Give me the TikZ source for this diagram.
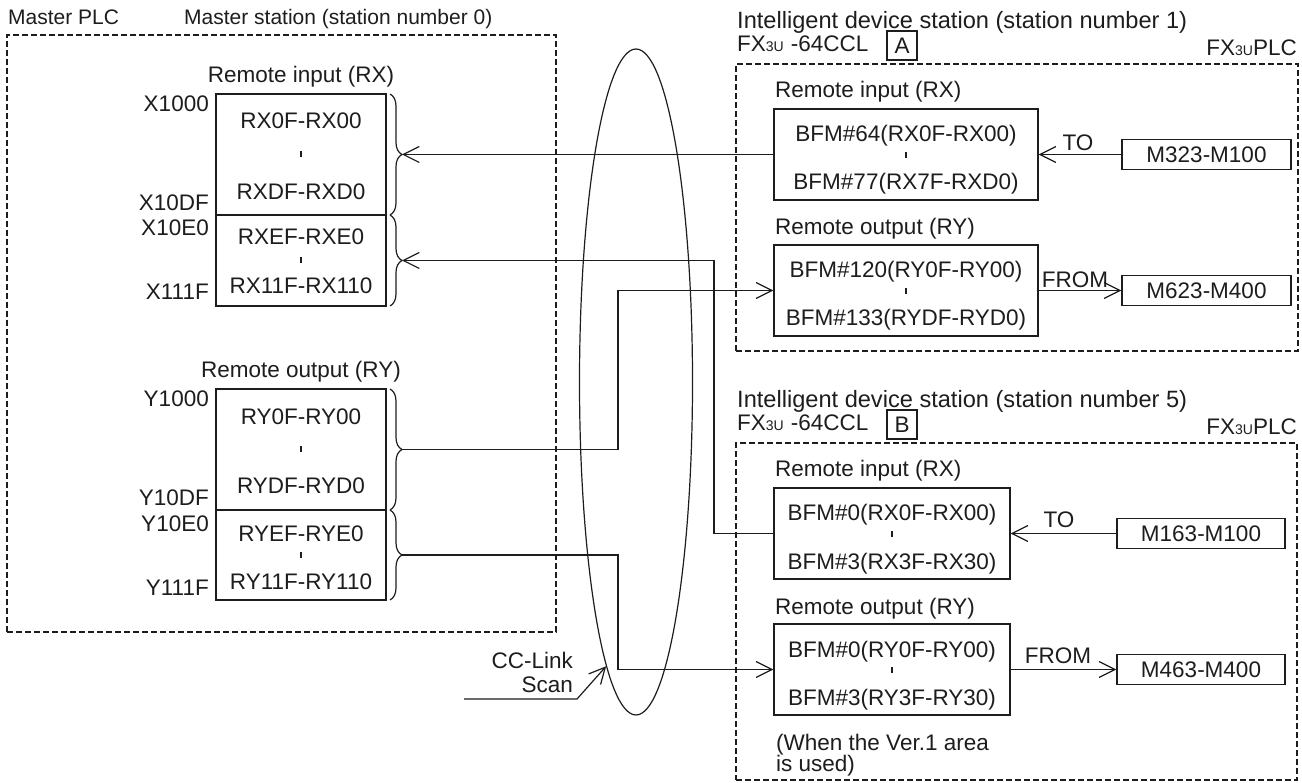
\documentclass[tikz,border=0pt]{standalone}
\usepackage{fontspec}
\setmainfont{Liberation Sans}
\usetikzlibrary{arrows.meta,decorations.pathreplacing,shapes.geometric}
\definecolor{ink}{HTML}{1E1C1D}
\newcommand\fxsmall{\fontsize{14}{14}\selectfont}
\begin{document}
\begin{tikzpicture}[x=1pt,y=-1pt,
  every node/.style={font=\fontsize{22.5}{22}\selectfont,text=ink},
  lbl/.style={anchor=base,inner sep=0pt},
  lblw/.style={anchor=base west,inner sep=0pt},
  lble/.style={anchor=base east,inner sep=0pt},
  toplbl/.style={anchor=base west,inner sep=0pt,font=\fontsize{21}{21}\selectfont},
  stlbl/.style={anchor=base west,inner sep=0pt,font=\fontsize{23.6}{23}\selectfont},
  sbox/.style={draw=ink,line width=1.2pt,inner sep=0pt},
  dbox/.style={draw=ink,line width=1.1pt,dash pattern=on 6pt off 3pt,inner sep=0pt},
  arr/.style={draw=ink,line width=1.2pt,-{Straight Barb[length=16pt,width=16pt]}},
  brc/.style={draw=ink,line width=1.2pt,decorate,decoration={brace,amplitude=12pt}},
  tickm/.style={fill=ink,inner sep=0pt,minimum width=1.6pt,minimum height=6pt}]
\useasboundingbox (0,0) rectangle (1302,783);

% ---------- Master side ----------
\node[dbox,minimum width=549pt,minimum height=597pt] (master) at (281.5,333.5) {};
\node[toplbl] (tmplc) at (8,25) {Master PLC};
\node[toplbl] (tmst) at (184,25) {Master station (station number 0)};

\node[lbl] (trxm) at (301,83) {Remote input (RX)};
\node[sbox,minimum width=170pt,minimum height=121pt] (xu) at (301,154.5) {};
\node[sbox,minimum width=170pt,minimum height=91pt] (xl) at (301,260.5) {};
\node[lble] (lx1) at (209,112) {X1000};
\node[lbl] (tx1) at (301,129) {RX0F-RX00};
\node[tickm] (kx1) at (301,154.5) {};
\node[lbl] (tx2) at (301,200) {RXDF-RXD0};
\node[lble] (lx2) at (209,211) {X10DF};
\node[lble] (lx3) at (209,236) {X10E0};
\node[lbl] (tx3) at (301,245) {RXEF-RXE0};
\node[tickm] (kx2) at (301,260.5) {};
\node[lbl] (tx4) at (301,294) {RX11F-RX110};
\node[lble] (lx4) at (209,300) {X111F};

\node[lbl] (trym) at (301,378) {Remote output (RY)};
\node[sbox,minimum width=170pt,minimum height=121pt] (yu) at (301,449.5) {};
\node[sbox,minimum width=170pt,minimum height=90pt] (yl) at (301,555) {};
\node[lble] (ly1) at (209,407) {Y1000};
\node[lbl] (ty1) at (301,425) {RY0F-RY00};
\node[tickm] (ky1) at (301,449.5) {};
\node[lbl] (ty2) at (301,494) {RYDF-RYD0};
\node[lble] (ly2) at (209,506) {Y10DF};
\node[lble] (ly3) at (209,531) {Y10E0};
\node[lbl] (ty3) at (301,541) {RYEF-RYE0};
\node[tickm] (ky2) at (301,555) {};
\node[lbl] (ty4) at (301,589) {RY11F-RY110};
\node[lble] (ly4) at (209,595) {Y111F};

% braces
\draw[brc] (390,94) -- (390,215);
\draw[brc] (390,215) -- (390,306);
\draw[brc] (390,389) -- (390,510);
\draw[brc] (390,510) -- (390,600);
\coordinate (bx1) at (402,154.5);
\coordinate (bx2) at (402,260.5);
\coordinate (by1) at (402,449.5);
\coordinate (by2) at (402,555);

% ---------- Station 1 ----------
\node[dbox,minimum width=562pt,minimum height=287pt] (stA) at (1017,207.5) {};
\node[stlbl] (tsa) at (737,29) {Intelligent device station (station number 1)};
\node[lblw] (fxa) at (737,52) {FX{\fxsmall 3U}\hspace{7pt}-64CCL};
\node[sbox,minimum width=30pt,minimum height=29pt] (boxa) at (902,45.5) {A};
\node[lble] (plca) at (1297,56) {FX{\fxsmall 3U}PLC};
\node[lblw] (trxa) at (775,98) {Remote input (RX)};
\node[sbox,minimum width=264pt,minimum height=91pt] (rxa) at (906,154.5) {};
\node[lbl] (ta1) at (906,142) {BFM\#64(RX0F-RX00)};
\node[tickm] (ka1) at (906,155) {};
\node[lbl] (ta2) at (906,190) {BFM\#77(RX7F-RXD0)};
\node[lblw] (trya) at (775,235) {Remote output (RY)};
\node[sbox,minimum width=264pt,minimum height=91pt] (rya) at (906,290.5) {};
\node[lbl] (ta3) at (906,278) {BFM\#120(RY0F-RY00)};
\node[tickm] (ka2) at (906,291) {};
\node[lbl] (ta4) at (906,326) {BFM\#133(RYDF-RYD0)};
\node[sbox,minimum width=169pt,minimum height=30pt] (ma1) at (1206.5,154.5) {M323-M100};
\node[sbox,minimum width=169pt,minimum height=30pt] (ma2) at (1206.5,290.5) {M623-M400};
\node[lbl] (toa) at (1078,151) {TO};
\node[lbl] (froma) at (1075,288) {FROM};
\draw[arr] (ma1.west) -- (rxa.east);
\draw[arr] (rya.east) -- (ma2.west);

% ---------- Station 5 ----------
\node[dbox,minimum width=561pt,minimum height=337pt] (stB) at (1016.5,611.5) {};
\node[stlbl] (tsb) at (737,408) {Intelligent device station (station number 5)};
\node[lblw] (fxb) at (737,431) {FX{\fxsmall 3U}\hspace{7pt}-64CCL};
\node[sbox,minimum width=30pt,minimum height=29pt] (boxb) at (902,424.5) {B};
\node[lble] (plcb) at (1297,435) {FX{\fxsmall 3U}PLC};
\node[lblw] (trxb) at (775,477) {Remote input (RX)};
\node[sbox,minimum width=236pt,minimum height=91pt] (rxb) at (892,533.5) {};
\node[lbl] (tb1) at (892,521) {BFM\#0(RX0F-RX00)};
\node[tickm] (kb1) at (892,534) {};
\node[lbl] (tb2) at (892,569) {BFM\#3(RX3F-RX30)};
\node[lblw] (tryb) at (775,614) {Remote output (RY)};
\node[sbox,minimum width=236pt,minimum height=91pt] (ryb) at (892,669.5) {};
\node[lbl] (tb3) at (892,657) {BFM\#0(RY0F-RY00)};
\node[tickm] (kb2) at (892,670) {};
\node[lbl] (tb4) at (892,705) {BFM\#3(RY3F-RY30)};
\node[sbox,minimum width=168pt,minimum height=30pt] (mb1) at (1201,533.5) {M163-M100};
\node[sbox,minimum width=168pt,minimum height=30pt] (mb2) at (1201,669.5) {M463-M400};
\node[lbl] (tob) at (1059,528) {TO};
\node[lbl] (fromb) at (1058,663) {FROM};
\node[lblw] (ver1) at (776,750) {(When the Ver.1 area};
\node[lblw] (ver2) at (776,771) {is used)};
\draw[arr] (mb1.west) -- (rxb.east);
\draw[arr] (ryb.east) -- (mb2.west);

% ---------- CC-Link scan ----------
\node[draw=ink,line width=1.2pt,ellipse,minimum width=113pt,minimum height=666pt,inner sep=0pt] (scan) at (636,382) {};
\node[lble] (tcc) at (573,668) {CC-Link};
\node[lble] (tscan) at (573,692) {Scan};
\coordinate (cs0) at (464,699);
\coordinate (cs1) at (577,699);
\draw[arr] (cs0) -- (cs1) -- (scan.264.3);

% ---------- links ----------
\coordinate (j2) at (714,260.5);
\coordinate (j3) at (618,290.5);
\coordinate (j4) at (618,669.5);
\draw[arr] (rxa.west) -- (bx1);
\draw[arr] (rxb.west) -| (j2) -- (bx2);
\draw[arr] (by1) -| (j3) -- (rya.west);
\draw[arr] (by2) -| (j4) -- (ryb.west);
\end{tikzpicture}
\end{document}
